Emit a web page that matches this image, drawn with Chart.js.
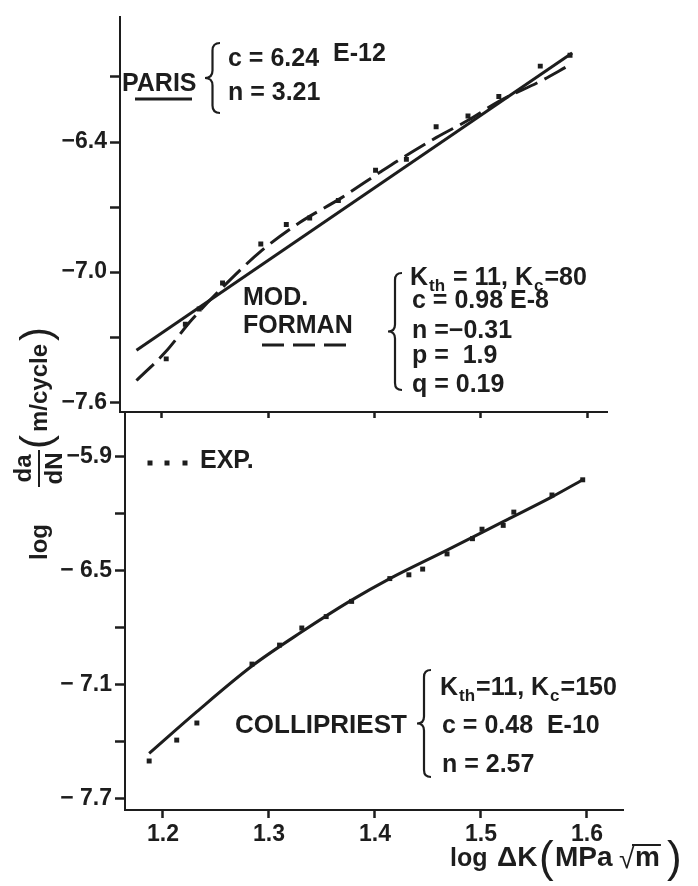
<!DOCTYPE html>
<html><head><meta charset="utf-8">
<script src="https://cdn.jsdelivr.net/npm/chart.js@4/dist/chart.umd.min.js"></script>
<style>
html,body{margin:0;padding:0;background:#fff;}
#wrap{position:relative;width:698px;height:886px;background:#fff;}
canvas{position:absolute;left:0;top:0;}
</style></head><body>
<div id="wrap"><canvas id="cTop" width="698" height="886"></canvas><canvas id="cBot" width="698" height="886"></canvas></div>
<script>
// ---------- DATA ----------
const xTicks = [1.2, 1.3, 1.4, 1.5, 1.6];
const xTickLabels = ['1.2', '1.3', '1.4', '1.5', '1.6'];

const topYTicks = [-7.6, -7.3, -7.0, -6.7, -6.4, -6.1];
const topYTickLabels = ['−7.6', '', '−7.0', '', '−6.4', ''];
const botYTicks = [-7.7, -7.4, -7.1, -6.8, -6.5, -6.2, -5.9];
const botYTickLabels = ['− 7.7', '', '− 7.1', '', '− 6.5', '', '−5.9'];

// top panel: PARIS fit (solid), modified FORMAN fit (dashed), experiment
const parisX = [1.176, 1.586];
const parisY = [-7.36, -5.99];
const formanX = [1.176, 1.203, 1.228, 1.257, 1.294, 1.330, 1.368, 1.405, 1.424, 1.458, 1.488, 1.518, 1.556, 1.582];
const formanY = [-7.50, -7.37, -7.22, -7.07, -6.90, -6.77, -6.66, -6.54, -6.48, -6.38, -6.30, -6.21, -6.12, -6.05];
const expTopX = [1.204, 1.222, 1.235, 1.257, 1.293, 1.317, 1.339, 1.366, 1.401, 1.430, 1.458, 1.488, 1.517, 1.556, 1.584];
const expTopY = [-7.40, -7.24, -7.17, -7.05, -6.87, -6.78, -6.75, -6.67, -6.53, -6.48, -6.33, -6.28, -6.19, -6.05, -6.00];

// bottom panel: COLLIPRIEST fit (solid), experiment
const collX = [1.187, 1.232, 1.284, 1.331, 1.376, 1.414, 1.468, 1.521, 1.567, 1.596];
const collY = [-7.46, -7.24, -7.00, -6.82, -6.66, -6.54, -6.39, -6.24, -6.11, -6.02];
const expBotX = [1.187, 1.213, 1.232, 1.284, 1.310, 1.331, 1.354, 1.378, 1.414, 1.432, 1.445, 1.468, 1.492, 1.501, 1.521, 1.531, 1.567, 1.596];
const expBotY = [-7.50, -7.39, -7.30, -6.99, -6.89, -6.80, -6.74, -6.66, -6.54, -6.52, -6.49, -6.41, -6.33, -6.28, -6.26, -6.19, -6.10, -6.02];

// ---------- STYLE ----------
const INK = '#1d1d1d';
const FONT = '"Liberation Sans", Arial, Helvetica, sans-serif';
const zip = (xs, ys) => xs.map((x, i) => ({ x: x, y: ys[i] }));

function setFont(c, size, weight) { c.font = (weight || 'bold') + ' ' + size + 'px ' + FONT; }
function text(c, s, x, y, size, weight) {
  setFont(c, size, weight); c.textAlign = 'left'; c.textBaseline = 'alphabetic';
  c.fillText(s, x, y); return c.measureText(s).width;
}
function runs(c, x, y, parts, size) {
  let cx = x;
  parts.forEach(p => {
    if (p[1] === 'sub') { cx += text(c, p[0], cx + 1, y + 6, Math.round(size * 0.66)) + 2; }
    else { cx += text(c, p[0], cx, y, size); }
  });
}
function seg(c, x0, y0, x1, y1, w, dash) {
  c.save(); c.lineWidth = w; c.setLineDash(dash || []); c.beginPath(); c.moveTo(x0, y0); c.lineTo(x1, y1); c.stroke(); c.restore();
}
function brace(c, x, y0, y1, w) {
  const ym = (y0 + y1) / 2, h = w / 2;
  c.save(); c.lineWidth = 2.2; c.beginPath();
  c.moveTo(x + w, y0);
  c.quadraticCurveTo(x + h, y0, x + h, y0 + h);
  c.lineTo(x + h, ym - h);
  c.quadraticCurveTo(x + h, ym, x, ym);
  c.quadraticCurveTo(x + h, ym, x + h, ym + h);
  c.lineTo(x + h, y1 - h);
  c.quadraticCurveTo(x + h, y1, x + w, y1);
  c.stroke(); c.restore();
}

function xAxis(min, max, labels, tickLen, height) {
  return {
    type: 'linear', position: 'bottom', min: min, max: max,
    afterBuildTicks: a => { a.ticks = xTicks.map(v => ({ value: v })); },
    afterFit: s => { s.height = height; },
    ticks: { autoSkip: false, maxRotation: 0, callback: (v, i) => labels ? xTickLabels[i] : '',
             font: { family: FONT, size: 23, weight: 'bold' }, color: INK, padding: 3 },
    grid: { drawOnChartArea: false, drawTicks: true, tickLength: tickLen, tickWidth: 2.5, tickColor: INK },
    border: { display: true, color: INK, width: 2 }
  };
}
function yAxis(min, max, ticks, labels, width) {
  return {
    type: 'linear', min: min, max: max,
    afterBuildTicks: a => { a.ticks = ticks.map(v => ({ value: v })); },
    afterFit: s => { s.width = width; },
    ticks: { autoSkip: false, callback: (v, i) => labels[i],
             font: { family: FONT, size: 23, weight: 'bold' }, color: INK, padding: 3 },
    grid: { drawOnChartArea: false, drawTicks: true, tickLength: 10, tickWidth: 2.5, tickColor: INK },
    border: { display: true, color: INK, width: 2 }
  };
}

const topAnnot = { id: 'topAnnot', afterDraw(chart) {
  const c = chart.ctx; c.save(); c.fillStyle = INK; c.strokeStyle = INK;
  text(c, 'PARIS', 122, 91, 25);
  seg(c, 135, 99, 192, 99, 3);
  brace(c, 205, 43, 113, 15);
  text(c, 'c = 6.24', 228, 66, 25);
  text(c, 'E-12', 333, 61, 25);
  text(c, 'n = 3.21', 228, 100, 25);
  text(c, 'MOD.', 243, 305, 25);
  text(c, 'FORMAN', 243, 333, 25);
  seg(c, 262, 345, 348, 345, 3, [22, 9]);
  brace(c, 388, 273, 390, 14);
  runs(c, 410, 285, [['K'], ['th', 'sub'], [' = 11, K'], ['c', 'sub'], ['=80']], 25);
  text(c, 'c = 0.98 E-8', 412, 308, 25);
  text(c, 'n =−0.31', 412, 338, 25);
  text(c, 'p =  1.9', 412, 363, 25);
  text(c, 'q = 0.19', 412, 392, 25);
  c.restore();
}};

const botAnnot = { id: 'botAnnot', afterDraw(chart) {
  const c = chart.ctx; c.save(); c.fillStyle = INK; c.strokeStyle = INK;
  [150, 167, 185].forEach(x => c.fillRect(x - 2.5, 460.5, 5, 5));
  text(c, 'EXP.', 200, 468, 25);
  text(c, 'COLLIPRIEST', 235, 733, 26);
  brace(c, 417, 670, 777, 14);
  runs(c, 440, 695, [['K'], ['th', 'sub'], ['=11, K'], ['c', 'sub'], ['=150']], 25);
  text(c, 'c = 0.48  E-10', 442, 733, 25);
  text(c, 'n = 2.57', 442, 772, 25);

  // y-axis title (rotated, reads bottom to top)
  c.save(); c.translate(47, 560); c.rotate(-Math.PI / 2);
  text(c, 'log', 0, 0, 24);
  setFont(c, 24, 'bold'); c.textAlign = 'center';
  const f0 = 73, fw = 37, fc = f0 + fw / 2;
  c.fillText('da', fc, -16);
  c.fillText('dN', fc, 15);
  seg(c, f0, -8, f0 + fw, -8, 2);
  c.textAlign = 'left';
  let u = f0 + fw + 1;
  u += text(c, '(', u, 3, 42, 'normal') + 3;
  u += text(c, 'm/cycle', u, 0, 24) + 3;
  text(c, ')', u, 3, 42, 'normal');
  c.restore();

  // x-axis title
  text(c, 'log', 450, 866, 25);
  text(c, 'ΔK', 497, 866, 28);
  text(c, '(', 539, 872, 44, 'normal');
  text(c, 'MPa', 555, 866, 28);
  text(c, '√', 619, 868, 28, 'normal');
  const mw = text(c, 'm', 635, 866, 28);
  seg(c, 632, 845, 635 + mw + 1, 845, 2);
  text(c, ')', 667, 872, 44, 'normal');
  c.restore();
}};

const common = { responsive: false, animation: false, events: [],
  plugins: { legend: { display: false }, tooltip: { enabled: false } } };

new Chart(document.getElementById('cTop'), {
  type: 'scatter',
  data: { datasets: [
    { label: 'PARIS', data: zip(parisX, parisY), showLine: true, borderColor: INK, borderWidth: 3, pointRadius: 0 },
    { label: 'MOD. FORMAN', data: zip(formanX, formanY), showLine: true, borderColor: INK, borderWidth: 3, borderDash: [24, 8], pointRadius: 0, cubicInterpolationMode: 'monotone' },
    { label: 'EXP.', data: zip(expTopX, expTopY), showLine: false, pointStyle: 'rect', pointRadius: 3.5, backgroundColor: INK, borderColor: INK, borderWidth: 0 }
  ]},
  options: Object.assign({}, common, {
    layout: { padding: { left: 0, right: 91, top: 8, bottom: 444 } },
    scales: { x: xAxis(1.1605, 1.6188, false, 6, 30), y: yAxis(-7.6451, -5.8226, topYTicks, topYTickLabels, 120) }
  }),
  plugins: [topAnnot]
});

new Chart(document.getElementById('cBot'), {
  type: 'scatter',
  data: { datasets: [
    { label: 'COLLIPRIEST', data: zip(collX, collY), showLine: true, borderColor: INK, borderWidth: 3, pointRadius: 0, cubicInterpolationMode: 'monotone' },
    { label: 'EXP.', data: zip(expBotX, expBotY), showLine: false, pointStyle: 'rect', pointRadius: 3.5, backgroundColor: INK, borderColor: INK, borderWidth: 0 }
  ]},
  options: Object.assign({}, common, {
    layout: { padding: { left: 0, right: 75, top: 412, bottom: 36 } },
    scales: { x: xAxis(1.1642, 1.634, true, 8, 40), y: yAxis(-7.7579, -5.6632, botYTicks, botYTickLabels, 125) }
  }),
  plugins: [botAnnot]
});
</script>
</body></html>
